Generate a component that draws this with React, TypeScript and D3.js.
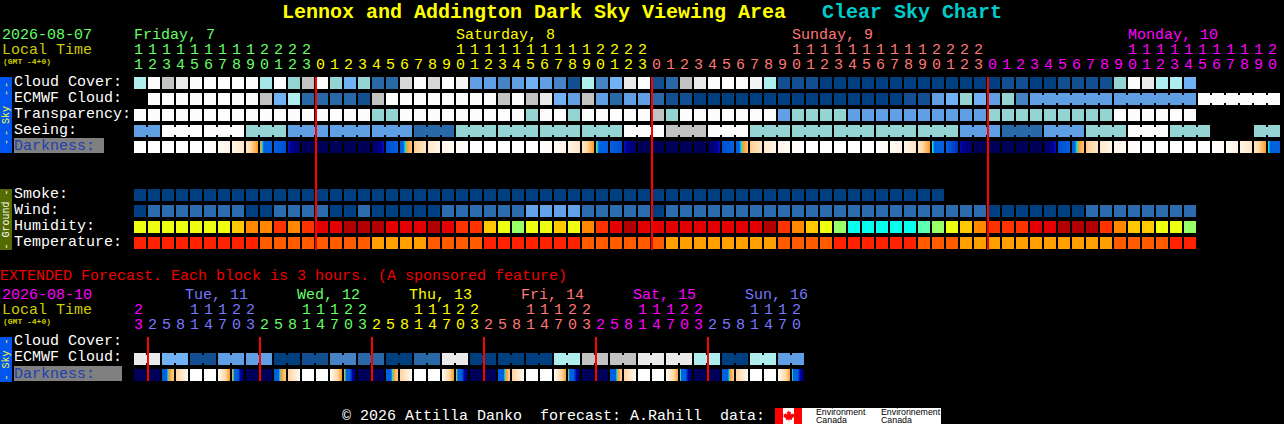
import React, { useRef, useEffect } from 'react';
import * as d3 from 'd3';

type Dark = [number, number];

// cloud style levels in percent (null = no forecast for that hour)
const hourlyHours = [
  11, 12, 13, 14, 15, 16, 17, 18, 19, 20, 21, 22, 23,
  0, 1, 2, 3, 4, 5, 6, 7, 8, 9, 10, 11, 12, 13, 14, 15, 16, 17, 18, 19, 20, 21, 22, 23,
  0, 1, 2, 3, 4, 5, 6, 7, 8, 9, 10, 11, 12, 13, 14, 15, 16, 17, 18, 19, 20, 21, 22, 23,
  0, 1, 2, 3, 4, 5, 6, 7, 8, 9, 10, 11, 12, 13, 14, 15, 16, 17, 18, 19, 20,
];
const hourlyDayColors = ['#66ff66', '#ffff00', '#ff7777', '#ff00ff'];
const hourlyDayLabels = ['Friday, 7', 'Saturday, 8', 'Sunday, 9', 'Monday, 10'];
const hourlyDayCols = [0, 23, 47, 71];

const cloudCover = [
  30, 0, 20, 10, 0, 0, 0, 0, 0, 35, 0, 40, 20, 0, 40, 50, 40, 80, 80, 15, 0,
  15, 0, 5, 60, 60, 70, 60, 50, 60, 70, 90, 30, 70, 50, 10, 0, 90, 80, 20, 10, 0, 0, 0, 5, 30,
  90, 90, 90, 100, 100, 100, 100, 100, 100, 100, 100, 100, 100, 100, 100, 100, 90, 90, 100, 100,
  90, 90, 90, 90, 40, 0, 10, 30, 30, 50,
];
const ecmwfCloud: (number | null)[] = [
  null, 0, 0, 0, 0, 0, 0, 0, 0, 20, 50, 30, 80, 80, 80, 80, 90, 20, 0, 0, 0,
  0, 0, 0, 0, 0, 20, 0, 20, 10, 50, 60, 20, 60, 80, 60, 60, 80, 90, 90, 100, 100, 100, 100, 100, 100,
  100, 100, 100, 100, 100, 100, 100, 100, 100, 90, 90, 60, 50, 40, 50, 60, 40, 70,
  60, 60, 60, 60, 60, 60, 60, 60, 60, 60, 60, 60, 0, 0, 0, 0, 0, 0,
];
const transparency = [
  0, 0, 0, 0, 0, 0, 0, 0, 0, 0, 0, 0, 0, 0, 0, 0, 0, 40, 40, 0, 0,
  0, 0, 0, 0, 0, 0, 0, 40, 0, 0, 40, 0, 0, 0, 0, 0, 20, 40, 0, 0, 0, 0, 0, 0, 0,
  60, 40, 40, 40, 40, 60, 60, 60, 60, 60, 60, 60, 60, 60, 60,
  40, 40, 40, 40, 40, 40, 40, 40, 40, 0, 0, 0, 0, 0, 0,
];
const seeing: (number | null)[] = [
  60, 60, 0, 0, 0, 0, 0, 0, 40, 40, 40, 60, 60, 60, 60, 60, 60, 60, 60, 60, 80, 80, 80,
  40, 40, 40, 40, 40, 40, 40, 40, 40, 40, 40, 40, 0, 0, 0, 20, 20, 20, 0, 0, 0, 40, 40, 40,
  40, 40, 40, 40, 40, 40, 40, 40, 40, 40, 40, 40, 60, 60, 60, 80, 80, 80, 60, 60, 60, 40, 40, 40,
  0, 0, 0, 40, 40, 40, null, null, null, 40, 40,
];
const darkness: Dark[] = [
  [0, 0], [0, 0], [0, 0], [0, 0], [0, 0], [.02, .2], [.2, .5], [.5, 1.2], [1.3, 3], [3, 5], [5, 5.2], [5.8, 6.8], [7, 7],
  [7, 7], [7, 7], [7, 7], [7, 7], [7, 5.8], [5.2, 5], [4, 2.4], [2.2, 1.2], [1, .5], [.4, .2], [.15, .05],
  [0, 0], [0, 0], [0, 0], [0, 0], [0, 0], [.02, .2], [.2, .5], [.5, 1.2], [1.3, 3], [3.2, 5], [5, 5.2], [5.8, 6.8], [7, 7],
  [7, 7], [7, 7], [7, 7], [7, 7], [7, 5.8], [5.2, 5], [4, 2.4], [2.2, 1.2], [1, .5], [.4, .2], [.15, .05],
  [0, 0], [0, 0], [0, 0], [0, 0], [0, 0], [.02, .2], [.2, .5], [.5, 1.2], [1.3, 3], [3.3, 5], [5, 5.5], [5.9, 6.8], [7, 7],
  [7, 7], [7, 7], [7, 7], [7, 7], [7, 5.8], [5.2, 5], [3.9, 2.4], [2.2, 1.2], [1, .5], [.4, .2], [.15, .05],
  [0, 0], [0, 0], [0, 0], [0, 0], [0, 0], [.02, .2], [.2, .5], [.5, 1.2], [1.3, 3], [3.3, 5],
];
const smoke = [
  0, 0, 0, 0, 0, 0, 0, 0, 0, 0, 0, 0, 0, 0, 0, 0, 0, 0, 0, 0, 0, 0, 0, 0, 0, 0, 0, 0, 0,
  0, 0, 0, 0, 0, 0, 0, 0, 0, 0, 0, 0, 0, 0, 0, 0, 0, 0, 0, 0, 0, 0, 0, 0, 0, 0, 0, 0, 0,
];
// mph
const wind = [
  3, 9, 9, 9, 9, 9, 9, 9, 3, 3, 9, 9, 9, 9, 3, 3, 9, 3, 3, 3, 3,
  3, 9, 9, 9, 9, 9, 9, 14, 14, 14, 14, 9, 9, 9, 9, 9, 3, 9, 9, 9, 9, 9, 9, 9, 9,
  9, 9, 9, 9, 9, 9, 9, 9, 9, 9, 9, 9, 9, 9, 9,
  3, 3, 3, 3, 3, 3, 3, 9, 9, 9, 9, 9, 9, 9, 9,
];
// percent
const humidity = [
  70, 70, 70, 70, 70, 70, 70, 75, 80, 80, 85, 80, 85, 90, 90, 95, 95, 95, 90, 90, 90,
  95, 90, 85, 85, 75, 70, 65, 70, 70, 75, 70, 80, 85, 90, 95, 90, 90, 90, 90, 90, 90, 90, 90, 90, 95,
  85, 80, 75, 70, 65, 55, 55, 55, 55, 55, 60, 65, 70, 75, 80,
  85, 85, 85, 90, 90, 95, 95, 95, 85, 80, 75, 75, 70, 70, 65,
];
// deg C
const temperature = [
  28, 28, 28, 28, 28, 28, 28, 28, 28, 25, 25, 25, 25, 25, 25, 25, 25, 21, 21, 21, 21,
  25, 25, 25, 25, 28, 28, 28, 28, 28, 28, 28, 25, 25, 25, 25, 25, 25, 21, 21, 21, 21, 21, 21, 21, 21,
  25, 25, 25, 25, 28, 28, 28, 28, 28, 28, 25, 25, 25, 21, 21,
  21, 21, 21, 21, 21, 21, 21, 21, 21, 25, 25, 25, 25, 28, 28,
];

const extendedHours = [
  23, 2, 5, 8, 11, 14, 17, 20, 23, 2, 5, 8, 11, 14, 17, 20, 23, 2, 5, 8, 11, 14, 17, 20,
  23, 2, 5, 8, 11, 14, 17, 20, 23, 2, 5, 8, 11, 14, 17, 20, 23, 2, 5, 8, 11, 14, 17, 20,
];
const extendedDayColors = ['#ff00ff', '#7777ff', '#66ff66', '#ffff00', '#ff7777', '#ff00ff', '#7777ff'];
const extendedDayLabels = ['Tue, 11', 'Wed, 12', 'Thu, 13', 'Fri, 14', 'Sat, 15', 'Sun, 16'];
// one value per 6 hour block, two cells wide
const extendedEcmwf = [10, 50, 90, 60, 60, 100, 90, 70, 80, 100, 80, 10, 100, 100, 100, 30, 20, 20, 10, 10, 30, 100, 30, 60];
const extendedDarkness: Dark[] = [
  [7, 7], [7, 7], [4.4, 2.2], [2, .2], [0, 0], [0, 0], [.2, 3], [3, 7],
  [7, 7], [7, 7], [4.4, 2.2], [2, .2], [0, 0], [0, 0], [.2, 3], [3.05, 7],
  [7, 7], [7, 7], [4.6, 2.2], [2, .2], [0, 0], [0, 0], [.2, 3], [3.15, 7],
  [7, 7], [7, 7], [4.8, 2.2], [2, .2], [0, 0], [0, 0], [.2, 2.9], [3.2, 7],
  [7, 7], [7, 7], [4.8, 2.2], [2, .2], [0, 0], [0, 0], [.2, 2.8], [3.3, 7],
  [7, 7], [7, 7], [5, 2.2], [2, .2], [0, 0], [0, 0], [.2, 2.8], [3.35, 6.9],
];

const cloudColor = d3.scaleOrdinal<number, string>()
  .domain([0, 5, 10, 15, 20, 30, 35, 40, 50, 60, 70, 80, 90, 100])
  .range(['#fcfcfc', '#f4f4f4', '#eaeaea', '#d8d8d8', '#c2c2c2', '#aeeeee', '#a6e6e6', '#94d5d4', '#70b2f4', '#609fe4', '#4583c4', '#2a69a8', '#124f90', '#003f7f']);
const smokeColor = d3.scaleOrdinal<number, string>().domain([0]).range(['#003f7f']);
const windColor = d3.scaleOrdinal<number, string>().domain([3, 9, 14]).range(['#003f7f', '#2c6cae', '#62a2e6']);
const humidityColor = d3.scaleOrdinal<number, string>()
  .domain([55, 60, 65, 70, 75, 80, 85, 90, 95])
  .range(['#08ffee', '#5dffb0', '#99ff66', '#eeff11', '#ffc800', '#ff8800', '#ff3300', '#e40000', '#b30000']);
const temperatureColor = d3.scaleOrdinal<number, string>().domain([21, 25, 28]).range(['#ffa000', '#ff5c00', '#ff2200']);
const darknessColor = d3.scaleLinear<string>()
  .domain([0, 1, 2, 3, 3.3, 3.6, 5, 6, 7])
  .range(['#ffffff', '#ffe9cc', '#ffd5a0', '#ff9e2c', '#1ae0d0', '#0060e0', '#0060e0', '#0000a0', '#000058'])
  .clamp(true);

const MONO = '"Liberation Mono", monospace';

const App: React.FC = () => {
  const svgRef = useRef<SVGSVGElement>(null);

  useEffect(() => {
    if (!svgRef.current) return;
    const svg = d3.select(svgRef.current);
    svg.selectAll('*').remove();

    svg.append('rect').attr('width', 1284).attr('height', 424).attr('fill', '#000');

    const x = d3.scaleLinear().domain([0, 1]).range([134, 148]);
    const cellSize = 12;

    const label = (txt: string, lx: number, ly: number, color: string, size = 15, weight = 'normal') =>
      svg.append('text')
        .attr('x', lx)
        .attr('y', ly)
        .style('font-family', MONO)
        .style('font-size', `${size}px`)
        .style('font-weight', weight)
        .style('white-space', 'pre')
        .style('fill', color)
        .text(txt);

    // rows of blocks
    const cells = (values: (number | null)[], y: number, color: (v: number) => string) => {
      svg.append('g')
        .attr('shape-rendering', 'crispEdges')
        .selectAll('rect')
        .data(values.map((v, i) => ({ v, i })).filter(d => d.v !== null))
        .enter()
        .append('rect')
        .attr('x', d => x(d.i))
        .attr('y', y)
        .attr('width', cellSize)
        .attr('height', cellSize)
        .attr('fill', d => color(d.v as number));
    };

    // narrow joins between blocks of the same model step
    const bridges = (values: (number | null)[], y: number, color: (v: number) => string, joined: (i: number) => boolean) => {
      svg.append('g')
        .attr('shape-rendering', 'crispEdges')
        .selectAll('rect')
        .data(values.map((v, i) => ({ v, i })).filter(d => d.v !== null && d.i < values.length - 1 && values[d.i + 1] !== null && joined(d.i)))
        .enter()
        .append('rect')
        .attr('x', d => x(d.i) + cellSize)
        .attr('y', y + 2)
        .attr('width', 2)
        .attr('height', cellSize - 4)
        .attr('fill', d => color(d.v as number));
    };

    // darkness blocks shade from left to right, 1px strips
    const darkCells = (values: Dark[], y: number) => {
      const strips = values.flatMap((d, i) =>
        d3.range(cellSize).map(p => ({ cx: x(i) + p, v: d[0] + (d[1] - d[0]) * p / (cellSize - 1) })));
      svg.append('g')
        .attr('shape-rendering', 'crispEdges')
        .selectAll('rect')
        .data(strips)
        .enter()
        .append('rect')
        .attr('x', d => d.cx)
        .attr('y', y)
        .attr('width', 1)
        .attr('height', cellSize)
        .attr('fill', d => darknessColor(d.v));
    };

    const hourLabels = (hours: number[], colors: string[], tensY: number, onesY: number) => {
      let day = 0;
      hours.forEach((h, i) => {
        if (i > 0 && h < hours[i - 1]) day += 1;
        if (h >= 10) label(String(Math.floor(h / 10)), x(i), tensY, colors[day]);
        label(String(h % 10), x(i), onesY, colors[day]);
      });
    };

    const sideBar = (y: number, h: number, fill: string, color: string, word: string, dashes: number[]) => {
      svg.append('rect')
        .attr('x', 0)
        .attr('y', y)
        .attr('width', 12)
        .attr('height', h)
        .attr('shape-rendering', 'crispEdges')
        .attr('fill', fill);
      // dashes are spaced tighter than the font allows, so each gets its own text
      [{ t: word, off: 0 }, ...dashes.map(off => ({ t: '-', off }))].forEach(d => {
        svg.append('text')
          .attr('transform', `translate(8.5,${y + h / 2 + d.off}) rotate(-90)`)
          .attr('text-anchor', 'middle')
          .style('font-family', MONO)
          .style('font-size', '10px')
          .style('fill', color)
          .text(d.t);
      });
    };

    const darknessLabel = (y: number, w: number) => {
      svg.append('rect')
        .attr('x', 14)
        .attr('y', y)
        .attr('width', w)
        .attr('height', 15)
        .attr('shape-rendering', 'crispEdges')
        .attr('fill', '#808080');
      label('Darkness:', 14, y + 12, '#1f3fb0');
    };

    const midnightLine = (col: number, top: number, bottom: number) => {
      svg.append('rect')
        .attr('x', x(col) - 1)
        .attr('y', top)
        .attr('width', 2)
        .attr('height', bottom - top)
        .attr('shape-rendering', 'crispEdges')
        .attr('fill', '#ff0000');
    };

    // title
    label('Lennox and Addington Dark Sky Viewing Area', 282, 18, '#ffff00', 20, 'bold');
    label('Clear Sky Chart', 822, 18, '#00cccc', 20, 'bold');

    // hourly header
    label('2026-08-07', 2, 39, '#66ff66');
    label('Local Time', 2, 54, '#cccc00');
    label('(GMT -4+0)', 3, 64, '#cccc00', 8, 'bold');
    hourlyDayLabels.forEach((d, i) => label(d, x(hourlyDayCols[i]), 39, hourlyDayColors[i]));
    hourLabels(hourlyHours, hourlyDayColors, 54, 69);

    // sky rows
    sideBar(77, 76, '#0055ee', '#ffff33', 'Sky', [-30, -22, 18, 27]);
    label('Cloud Cover:', 14, 86, '#fff');
    label('ECMWF Cloud:', 14, 102, '#fff');
    label('Transparency:', 14, 118, '#fff');
    label('Seeing:', 14, 134, '#fff');
    darknessLabel(138, 90);

    cells(cloudCover, 77, cloudColor);
    cells(ecmwfCloud, 93, v => cloudColor(v));
    bridges(ecmwfCloud, 93, v => cloudColor(v), i => i >= 64 && i !== 69 && i !== 75);
    cells(transparency, 109, cloudColor);
    cells(seeing, 125, v => cloudColor(v));
    bridges(seeing, 125, v => cloudColor(v), i => (i + 2) % 3 !== 0);
    darkCells(darkness, 141);

    // ground rows
    sideBar(189, 61, '#546b00', '#ffffff', 'Ground', [-27, 27]);
    label('Smoke:', 14, 198, '#fff');
    label('Wind:', 14, 214, '#fff');
    label('Humidity:', 14, 230, '#fff');
    label('Temperature:', 14, 246, '#fff');

    cells(smoke, 189, smokeColor);
    cells(wind, 205, windColor);
    cells(humidity, 221, humidityColor);
    cells(temperature, 237, temperatureColor);

    hourlyHours.forEach((h, i) => {
      if (h === 0) midnightLine(i, 77, 250);
    });

    // extended forecast
    label('EXTENDED Forecast. Each block is 3 hours. (A sponsored feature)', 0, 280, '#ee0000');
    label('2026-08-10', 2, 299, '#ff00ff');
    label('Local Time', 2, 314, '#cccc00');
    label('(GMT -4+0)', 3, 324, '#cccc00', 8, 'bold');
    extendedDayLabels.forEach((d, i) => label(d, x(4 + i * 8) - 5, 299, extendedDayColors[i + 1]));
    hourLabels(extendedHours, extendedDayColors, 314, 329);

    sideBar(337, 45, '#0055ee', '#ffff33', 'Sky', [-18, 18]);
    label('Cloud Cover:', 14, 345, '#fff');
    label('ECMWF Cloud:', 14, 361, '#fff');
    darknessLabel(366, 108);

    const extendedCloud = extendedEcmwf.flatMap(v => [v, v]);
    cells(extendedCloud, 353, cloudColor);
    bridges(extendedCloud, 353, cloudColor, i => i % 2 === 0);
    darkCells(extendedDarkness, 369);

    extendedHours.forEach((h, i) => {
      if (i > 0 && h < extendedHours[i - 1]) midnightLine(i, 337, 381);
    });

    // footer
    label('\u00a9 2026 Attilla Danko  forecast: A.Rahill  data:', 342, 420, '#fff');
    const logo = svg.append('g').attr('shape-rendering', 'crispEdges');
    logo.append('rect').attr('x', 775).attr('y', 408).attr('width', 166).attr('height', 16).attr('fill', '#fff');
    logo.append('rect').attr('x', 775).attr('y', 408).attr('width', 8).attr('height', 16).attr('fill', '#ff0000');
    logo.append('rect').attr('x', 794).attr('y', 408).attr('width', 8).attr('height', 16).attr('fill', '#ff0000');
    svg.append('path')
      .attr('d', 'M788.5 410 l1.2 2.2 1.3-.6 -.4 2.8 1.9-1.2 .4 1.1 1.6-.2 -.5 1.8 .7.4 -3 2.4 .4 1.2 -2.9-.3 0 2 -.5 0 0-2 -2.9.3 .4-1.2 -3-2.4 .7-.4 -.5-1.8 1.6.2 .4-1.1 1.9 1.2 -.4-2.8 1.3.6z')
      .attr('fill', '#ff0000');
    [
      { t: 'Environment', lx: 816, ly: 415 },
      { t: 'Canada', lx: 816, ly: 423 },
      { t: 'Environnement', lx: 881, ly: 415 },
      { t: 'Canada', lx: 881, ly: 423 },
    ].forEach(d => {
      svg.append('text')
        .attr('x', d.lx)
        .attr('y', d.ly)
        .style('font-family', '"Liberation Sans", sans-serif')
        .style('font-size', '8.8px')
        .style('fill', '#000')
        .text(d.t);
    });
  }, []);

  return (
    <svg ref={svgRef} width={1284} height={424} style={{ position: 'fixed', left: 0, top: 0, display: 'block' }}></svg>
  );
};

export default App;
